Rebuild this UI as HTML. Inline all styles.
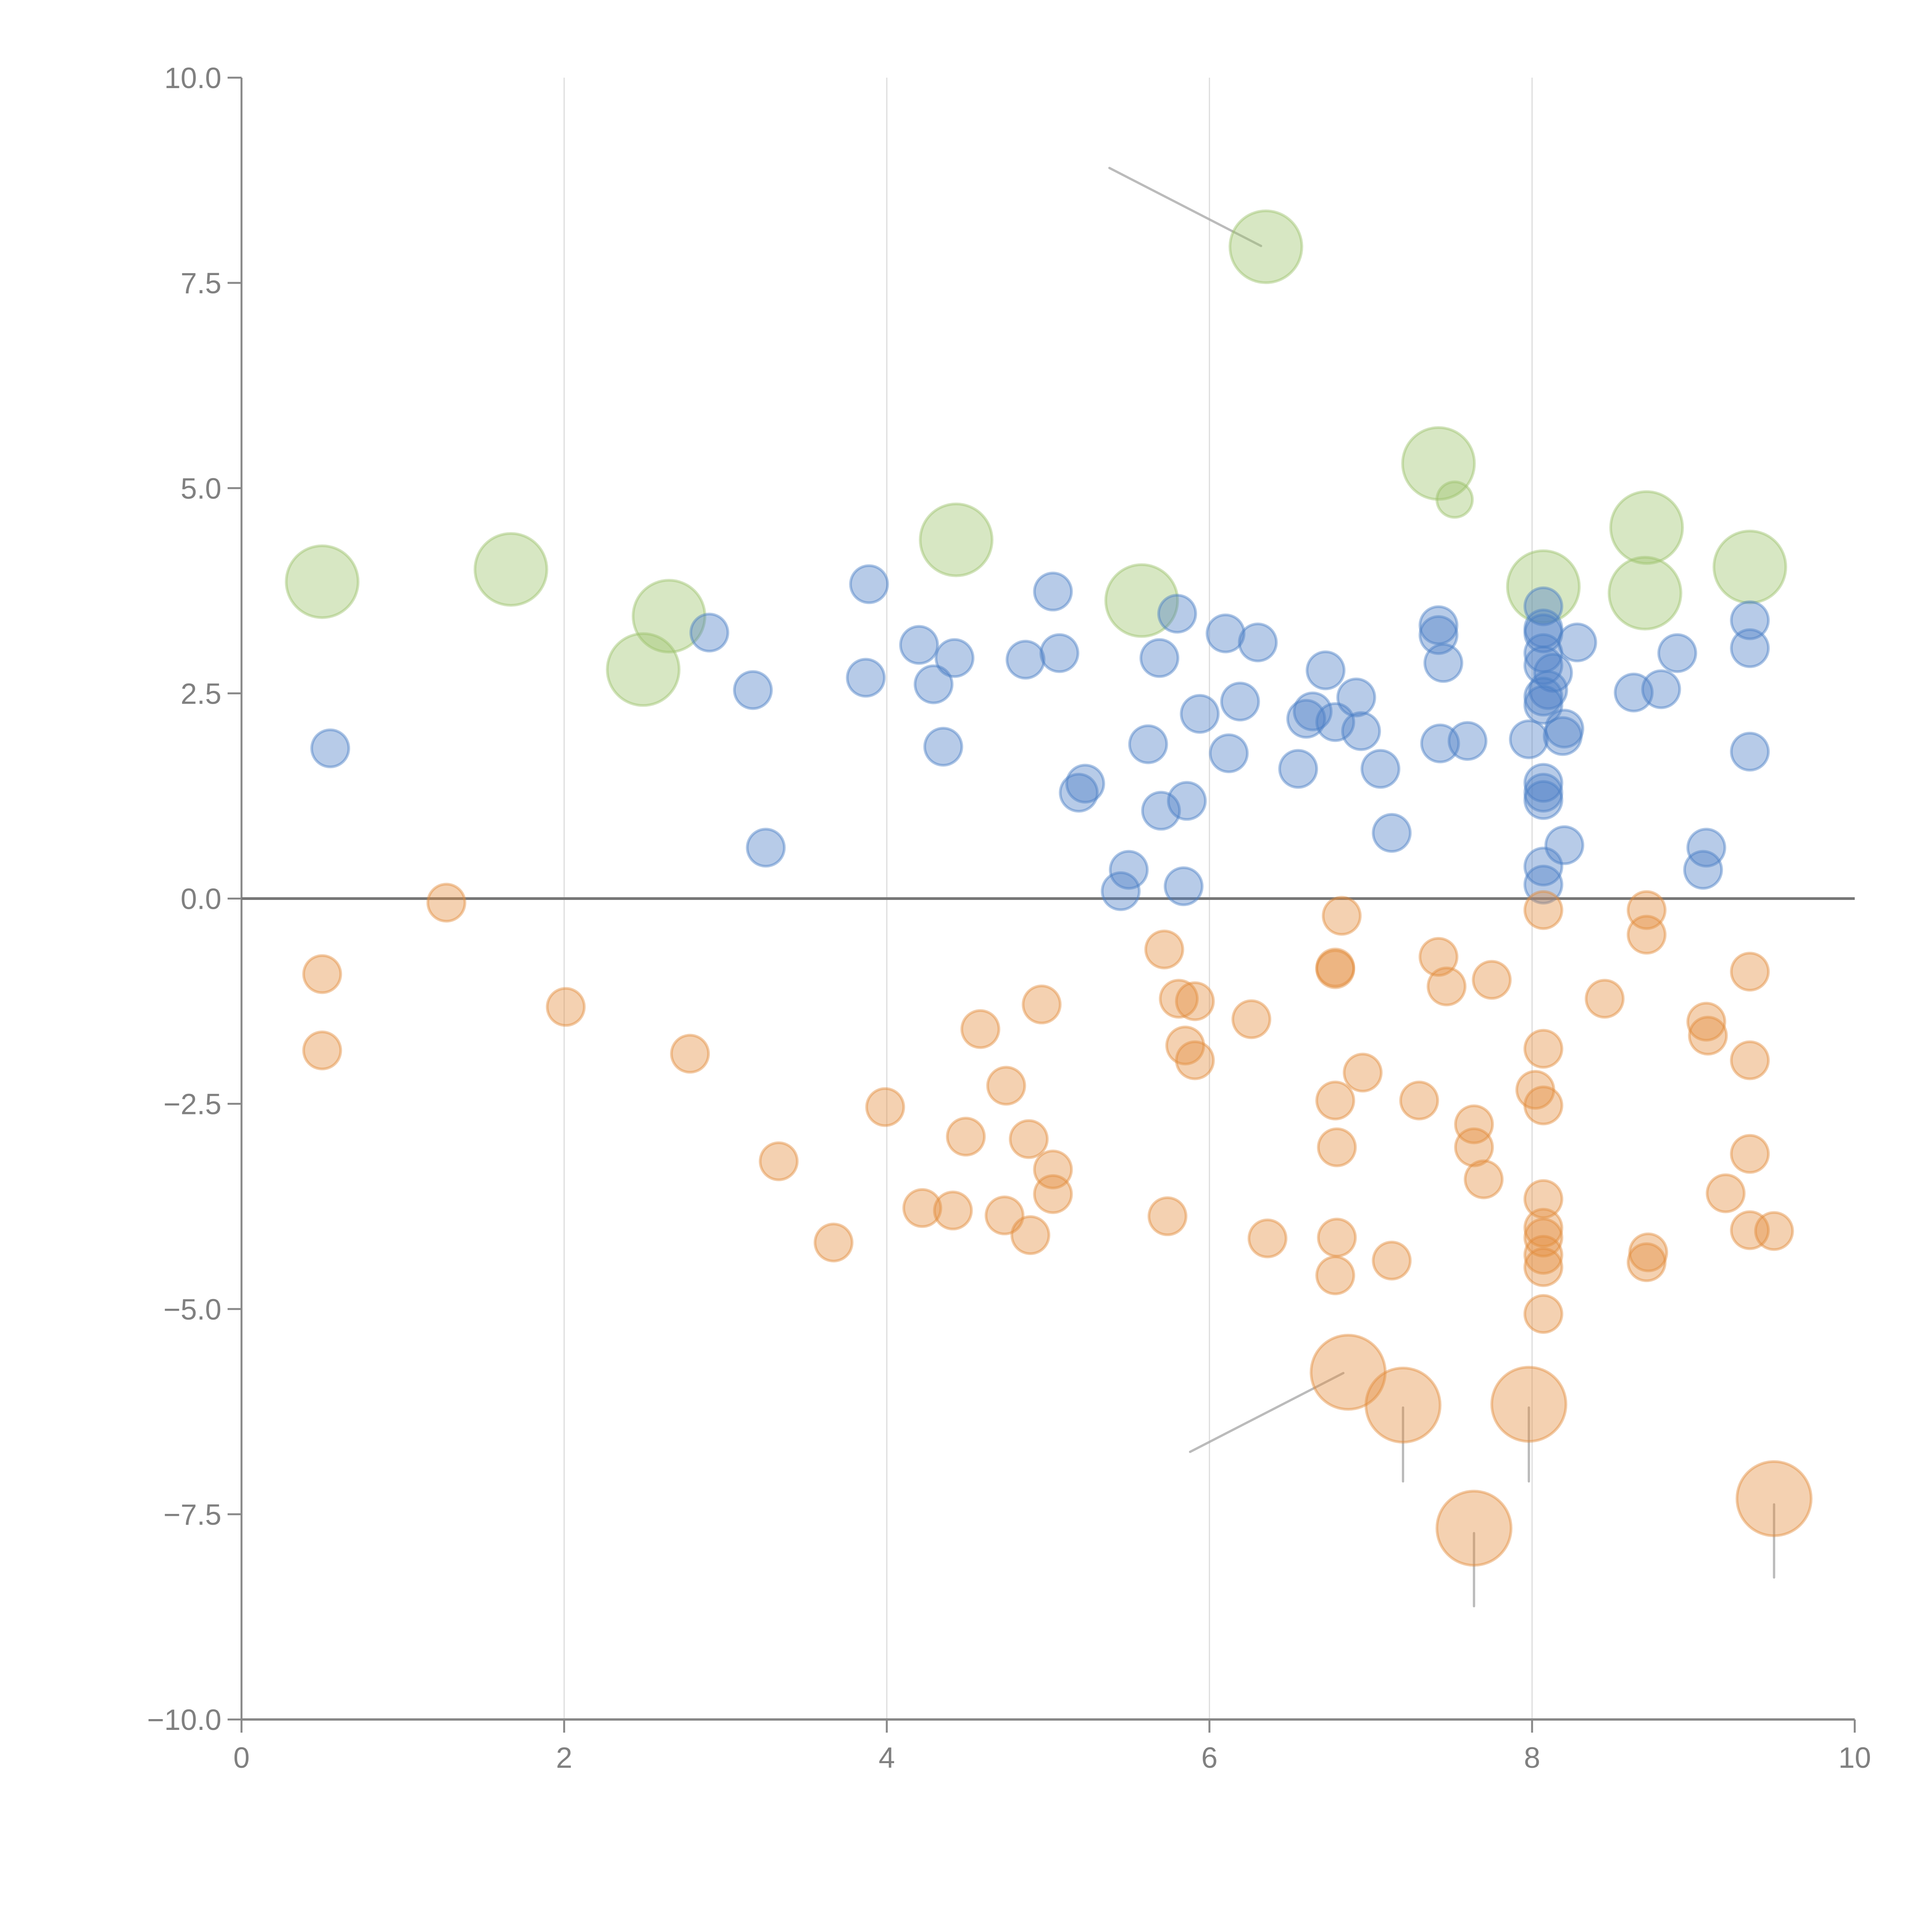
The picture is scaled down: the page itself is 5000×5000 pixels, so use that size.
<!DOCTYPE html>
<html><head><meta charset="utf-8"><style>html,body{margin:0;padding:0;background:#fff}svg{display:block}</style></head>
<body>
<svg id="chart" width="5000" height="5000" viewBox="0 0 5000 5000" xmlns="http://www.w3.org/2000/svg" font-family="'Liberation Sans', sans-serif">
<g id="grid"></g>
<g id="axes"></g>
<g id="annot"></g>
<g id="marks"></g>
</svg>
<script>
const xTicks=[0,2,4,6,8,10];
const yTicks=[10,7.5,5,2.5,0,-2.5,-5,-7.5,-10];
const yTickLabels=["10.0","7.5","5.0","2.5","0.0","\u22122.5","\u22125.0","\u22127.5","\u221210.0"];
const blueX=[0.55,2.9,3.17,3.25,3.87,3.89,4.2,4.29,4.35,4.42,4.86,5.03,5.07,5.19,5.23,5.45,5.5,5.62,5.69,5.7,5.8,5.84,5.86,5.94,6.1,6.12,6.19,6.3,6.55,6.6,6.64,6.72,6.78,6.91,6.94,7.06,7.13,7.42,7.42,7.45,7.43,7.6,7.98,8.07,8.07,8.07,8.07,8.07,8.13,8.1,8.07,8.07,8.28,8.2,8.19,8.07,8.07,8.07,8.07,8.2,8.07,8.63,8.8,8.9,9.08,9.06,9.35,9.35,9.35];
const blueY=[1.83,3.24,2.54,0.62,2.69,3.83,3.09,2.61,1.85,2.93,2.91,3.74,2.99,1.29,1.40,0.09,0.35,1.88,2.93,1.07,3.47,0.15,1.19,2.25,3.23,1.77,2.40,3.12,1.58,2.19,2.28,2.78,2.15,2.45,2.04,1.58,0.80,3.33,3.21,2.87,1.89,1.92,1.94,3.56,3.29,3.23,2.99,2.84,2.75,2.54,2.46,2.36,3.12,2.07,1.98,1.41,1.29,1.20,0.39,0.65,0.17,2.51,2.55,2.99,0.62,0.35,3.39,3.05,1.79];
const orangeX=[1.27,0.5,0.5,2.01,2.78,3.33,3.67,3.99,4.22,4.41,4.49,4.58,4.73,4.74,4.88,4.89,4.96,5.03,5.03,5.72,5.74,5.81,5.91,5.85,5.91,6.26,6.36,6.78,6.78,6.82,6.78,6.79,6.79,6.78,6.95,7.13,7.3,7.42,7.47,7.64,7.64,7.7,7.75,8.02,8.07,8.07,8.07,8.07,8.07,8.07,8.07,8.07,8.07,8.45,8.71,8.71,8.72,8.71,9.08,9.09,9.2,9.35,9.35,9.35,9.35,9.5];
const orangeY=[-0.05,-0.92,-1.85,-1.32,-1.89,-3.2,-4.19,-2.54,-3.77,-3.8,-2.9,-1.59,-3.86,-2.28,-2.93,-4.1,-1.29,-3.3,-3.6,-0.62,-3.87,-1.22,-1.25,-1.79,-1.97,-1.47,-4.14,-0.86,-0.84,-0.21,-2.46,-3.03,-4.13,-4.59,-2.12,-4.41,-2.46,-0.71,-1.07,-2.75,-3.03,-3.42,-0.99,-2.33,-0.14,-1.83,-2.52,-3.66,-4.01,-4.13,-4.34,-4.49,-5.06,-1.22,-0.14,-0.44,-4.31,-4.43,-1.50,-1.67,-3.59,-0.89,-1.97,-3.11,-4.04,-4.05];
const orangeBigX=[6.86,7.2,7.98,7.64,9.5];
const orangeBigY=[-5.77,-6.17,-6.16,-7.67,-7.31];
const greenX=[0.5,1.67,2.65,2.49,4.43,5.58,6.35,7.42,8.07,8.71,8.7,9.35];
const greenY=[3.86,4.01,3.44,2.79,4.37,3.63,7.94,5.3,3.8,4.52,3.72,4.04];
const greenSmallX=[7.52];
const greenSmallY=[4.86];
const annX1=[5.38,5.88,7.2,7.98,7.64,9.5];
const annY1=[8.9,-6.74,-6.2,-6.2,-7.73,-7.38];
const annX2=[6.32,6.83,7.2,7.98,7.64,9.5];
const annY2=[7.95,-5.78,-7.1,-7.1,-8.62,-8.27];

const X0=625,X1=4800,Y0=4450,Y1=201;
const sx=v=>X0+(v-0)/(10-0)*(X1-X0);
const sy=v=>Y0-(v+10)/20*(Y0-Y1);
const NS="http://www.w3.org/2000/svg";
function mk(tag,parent,attrs){const e=document.createElementNS(NS,tag);for(const k in attrs)e.setAttribute(k,attrs[k]);parent.appendChild(e);return e;}
const grid=document.getElementById('grid'),axes=document.getElementById('axes'),annot=document.getElementById('annot'),marks=document.getElementById('marks');
xTicks.forEach(t=>{
  if(t>0&&t<10){const g=mk('line',grid,{x1:sx(t),x2:sx(t),y1:Y1,y2:Y0,stroke:'#dcdcdc','stroke-width':3});
  
  }
  const tk=mk('line',axes,{x1:sx(t),x2:sx(t),y1:Y0,y2:Y0+34,stroke:'#888','stroke-width':5});
  
  
  const lb=mk('text',axes,{x:sx(t),y:Y0+125,'text-anchor':'middle','font-size':76,fill:'#808080'});
  lb.textContent=String(t);
  
  
});
yTicks.forEach((t,i)=>{
  const tk=mk('line',axes,{x1:X0-36,x2:X0,y1:sy(t),y2:sy(t),stroke:'#888','stroke-width':5});
  
  
  const lb=mk('text',axes,{x:X0-52,y:sy(t)+27,'text-anchor':'end','font-size':76,fill:'#808080'});
  lb.textContent=yTickLabels[i];
  
  
});
const ya=mk('line',axes,{x1:X0,x2:X0,y1:Y1,y2:Y0,stroke:'#888','stroke-width':5});


const xa=mk('line',axes,{x1:X0,x2:X1,y1:Y0,y2:Y0,stroke:'#888','stroke-width':6});


const zl=mk('line',axes,{x1:X0,x2:X1,y1:sy(0),y2:sy(0),stroke:'#777','stroke-width':7});


annX1.forEach((v,i)=>{
  const l=mk('line',annot,{x1:sx(v),y1:sy(annY1[i]),x2:sx(annX2[i]),y2:sy(annY2[i]),stroke:'#aaa','stroke-width':6,'stroke-linecap':'round','stroke-opacity':0.8});
  
  
});
function draw(xs,ys,r,col,name){
  xs.forEach((v,i)=>{
    const c=mk('circle',marks,{cx:sx(v),cy:sy(ys[i]),r:r,fill:col,'fill-opacity':0.4,stroke:col,'stroke-opacity':0.45,'stroke-width':7});
    
    
  });
}
draw(greenX,greenY,93,'#9bc26a','bubble-green');
draw(greenSmallX,greenSmallY,46,'#9bc26a','bubble-green');
draw(blueX,blueY,48,'#4a7ec6','bubble-blue');
draw(orangeX,orangeY,48,'#e38b3c','bubble-orange');
draw(orangeBigX,orangeBigY,96,'#e38b3c','bubble-orange-large');
</script>
</body></html>
